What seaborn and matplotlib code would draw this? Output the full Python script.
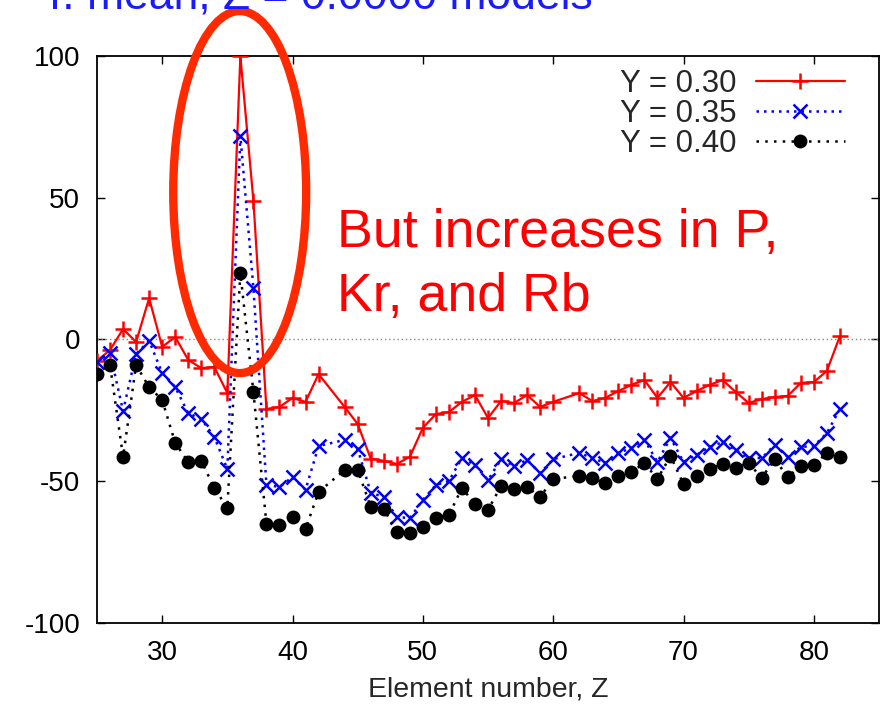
import numpy as np
import pandas as pd
import seaborn as sns
import matplotlib.pyplot as plt
from matplotlib.patches import Ellipse

# Element numbers (Tc, Z=43, and Pm, Z=61, have no entries)
Z = [25, 26, 27, 28, 29, 30, 31, 32, 33, 34, 35, 36, 37, 38, 39, 40, 41, 42,
     44, 45, 46, 47, 48, 49, 50, 51, 52, 53, 54, 55, 56, 57, 58, 59, 60,
     62, 63, 64, 65, 66, 67, 68, 69, 70, 71, 72, 73, 74, 75, 76, 77, 78, 79, 80, 81, 82]

# Percent change for each helium fraction Y
y030 = [-7.5, -3.7, 3.7, -0.9, 14.6, -2.6, 0.9, -7.2, -10.1, -9.7, -18.9, 100, 49, -24.5, -23.8, -20.6, -22, -12.2,
        -23.8, -29.8, -42, -42.8, -43.9, -41.4, -31.2, -26.3, -25.6, -22, -19.6, -27.7, -21.7, -22.4, -19.6, -23.8, -22,
        -18.9, -21.7, -20.6, -18.2, -16, -14.3, -20.6, -15, -20.6, -18.2, -16, -14.3, -18.5, -22.4, -21, -20.3, -19.9,
        -15.3, -15, -11.1, 1.2]
y035 = [-8, -4.7, -25.2, -5.1, -0.5, -11.8, -16.8, -26, -28, -34.4, -45.7, 71.8, 18.2, -51.3, -52, -48.5, -53, -37.6,
        -35.4, -38.6, -54, -55.6, -62.6, -63, -56.6, -51.3, -49.9, -41.8, -44.3, -49.6, -42.2, -44.6, -42.5, -47.1, -42.2,
        -40, -41.8, -43.6, -40, -38.3, -35.4, -43.2, -34.7, -43.2, -40.7, -37.9, -36.2, -39, -41.8, -41.8, -37.2, -41.4,
        -37.9, -37.6, -33, -24.5]
y040 = [-12.2, -9, -41.4, -9, -16.8, -21.3, -36.5, -43.2, -42.8, -52.4, -59.4, 23.5, -18.5, -65, -65.4, -62.6, -66.8, -53.8,
        -46, -46, -59, -59.8, -67.9, -68.3, -66, -62.9, -61.9, -52.4, -58, -60.1, -51.7, -52.7, -52, -55.6, -49.2,
        -48.1, -49, -50.6, -48.1, -46.7, -43.6, -49.2, -41.1, -51, -48.1, -45.7, -43.9, -45.3, -43.6, -48.8, -42.2, -48.5,
        -44.6, -44.3, -40, -41.4]

labels = ["Y = 0.30", "Y = 0.35", "Y = 0.40"]
x_ticks = [30, 40, 50, 60, 70, 80]
y_ticks = [-100, -50, 0, 50, 100]

sns.set_style("ticks")
plt.rcParams['font.family'] = ['Liberation Sans', 'DejaVu Sans']
plt.rcParams['axes.unicode_minus'] = False

fig = plt.figure(figsize=(8.81, 7.13), dpi=100)
ax = fig.add_axes([97 / 881, 1 - 623 / 713, (879 - 97) / 881, (623 - 56) / 713])

ax.axhline(0, color='#888888', lw=1.0, ls=(0, (1, 2)), zorder=1)

sns.lineplot(x=Z, y=y030, ax=ax, color='#ff0000', lw=1.6, marker='+', markersize=12,
             mew=1.8, mec='#ff0000', label=labels[0], zorder=3)
sns.lineplot(x=Z, y=y035, ax=ax, color='#0000ff', lw=1.8, ls=(0, (1, 2)), marker='x', markersize=10.5,
             mew=1.8, mec='#0000ff', label=labels[1], zorder=4)
sns.lineplot(x=Z, y=y040, ax=ax, color='#000000', lw=1.8, ls=(0, (1, 2.5)), marker='o', markersize=10,
             mew=0, mec='#000000', label=labels[2], zorder=5)

ax.set_xlim(25, 85)
ax.set_ylim(-100, 100)
ax.set_xticks(x_ticks)
ax.set_yticks(y_ticks)
ax.tick_params(direction='in', length=6, width=1, top=True, right=True,
               labelsize=20, pad=12, colors='black')
for s in ax.spines.values():
    s.set_linewidth(1.3)
    s.set_color('black')

ax.set_xlabel("Element number, Z", fontsize=20.5, labelpad=8)
ax.set_ylabel("")

leg = ax.legend(loc='upper right', frameon=False, markerfirst=False, fontsize=22.5,
                handlelength=2.85, handletextpad=0.6, labelspacing=0.0,
                borderaxespad=0.0, bbox_to_anchor=(0.972, 1.0))

# Highlight of the Kr peak
ax.add_patch(Ellipse((35.95, 52.0), 10.2, 127.7, fill=False, edgecolor='#ff2a00',
                     lw=6, clip_on=False, zorder=6))

fig.text(337 / 881, 1 - 247 / 713, "But increases in P,", color='#ff0000',
         fontsize=38.7, ha='left', va='baseline')
fig.text(337 / 881, 1 - 311 / 713, "Kr, and Rb", color='#ff0000',
         fontsize=38.7, ha='left', va='baseline')

fig.text(593 / 881, 1 - 9 / 713, "r. mean, Z = 0.0000 models", color='#1a1aff',
         fontsize=32, ha='right', va='baseline')

fig.savefig("out.png", dpi=100)
